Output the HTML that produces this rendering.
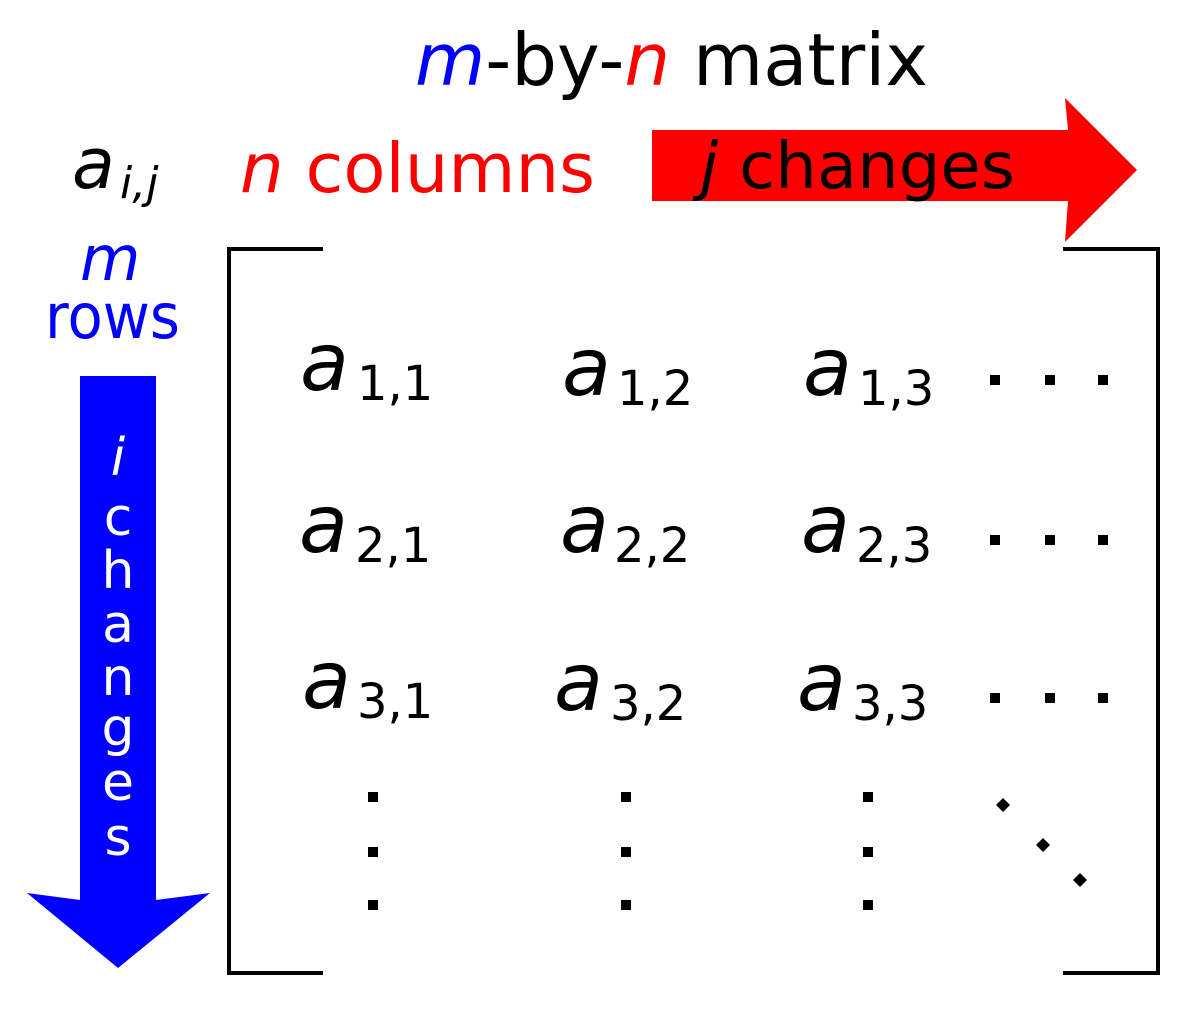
<!DOCTYPE html>
<html><head><meta charset="utf-8"><style>
html,body{margin:0;padding:0;background:#fff;}
svg{display:block;font-family:"DejaVu Sans","Liberation Sans",sans-serif;}
</style></head><body>
<svg width="1200" height="1013" viewBox="0 0 1200 1013" xmlns="http://www.w3.org/2000/svg">
<rect width="1200" height="1013" fill="#fff"/>
<!-- title -->
<text x="415" y="85" font-size="72" textLength="513" lengthAdjust="spacingAndGlyphs"><tspan fill="#00f" font-style="italic">m</tspan><tspan fill="#000">-by-</tspan><tspan fill="#f00" font-style="italic">n</tspan><tspan fill="#000"> matrix</tspan></text>
<!-- a_ij -->
<text x="72" y="188" font-size="70" font-style="italic">a</text>
<text x="120" y="198" font-size="44" font-style="italic">i,j</text>
<!-- n columns -->
<text x="240" y="192" font-size="69" fill="#f00" textLength="355" lengthAdjust="spacingAndGlyphs"><tspan font-style="italic">n</tspan> columns</text>
<!-- red arrow -->
<polygon points="652,130 1068,130 1065,98 1137,170 1065,242 1068,201 652,201" fill="#f00"/>
<text x="700" y="188" font-size="64" fill="#000" textLength="315" lengthAdjust="spacingAndGlyphs"><tspan font-style="italic">j</tspan> changes</text>
<!-- m rows -->
<text x="80" y="280" font-size="62" fill="#00f" font-style="italic">m</text>
<text x="45" y="338" font-size="62" fill="#00f" textLength="135" lengthAdjust="spacingAndGlyphs">rows</text>
<!-- blue arrow -->
<polygon points="80,376 156,376 156,900 210,893 118,968 27,893 80,900" fill="#00f"/>
<g fill="#fff" font-size="52" text-anchor="middle">
<text x="118" y="475" font-style="italic">i</text>
<text x="118" y="535">c</text>
<text x="118" y="588">h</text>
<text x="118" y="642">a</text>
<text x="118" y="695">n</text>
<text x="118" y="745">g</text>
<text x="118" y="800">e</text>
<text x="118" y="855">s</text>
</g>
<!-- brackets -->
<polyline points="323,249 229,249 229,973 323,973" fill="none" stroke="#000" stroke-width="4"/>
<polyline points="1063,249 1158,249 1158,973 1063,973" fill="none" stroke="#000" stroke-width="4"/>
<!-- entries -->
<g fill="#000">
<text x="300" y="390" font-size="80" font-style="italic">a</text><text x="357" y="400" font-size="48">1,1</text>
<text x="562" y="395" font-size="80" font-style="italic">a</text><text x="617" y="405" font-size="48">1,2</text>
<text x="803" y="395" font-size="80" font-style="italic">a</text><text x="858" y="405" font-size="48">1,3</text>
<text x="299" y="552" font-size="80" font-style="italic">a</text><text x="355" y="562" font-size="48">2,1</text>
<text x="560" y="552" font-size="80" font-style="italic">a</text><text x="614" y="562" font-size="48">2,2</text>
<text x="801" y="552" font-size="80" font-style="italic">a</text><text x="856" y="562" font-size="48">2,3</text>
<text x="302" y="708" font-size="80" font-style="italic">a</text><text x="357" y="718" font-size="48">3,1</text>
<text x="554" y="710" font-size="80" font-style="italic">a</text><text x="610" y="720" font-size="48">3,2</text>
<text x="797" y="710" font-size="80" font-style="italic">a</text><text x="852" y="720" font-size="48">3,3</text>
</g>
<!-- dots -->
<g fill="#000">
<rect x="990" y="375" width="10" height="10"/><rect x="1045" y="375" width="10" height="10"/><rect x="1098" y="375" width="10" height="10"/>
<rect x="990" y="535" width="10" height="10"/><rect x="1045" y="535" width="10" height="10"/><rect x="1098" y="535" width="10" height="10"/>
<rect x="990" y="693" width="10" height="10"/><rect x="1045" y="693" width="10" height="10"/><rect x="1098" y="693" width="10" height="10"/>
<rect x="368" y="792" width="10" height="10"/><rect x="368" y="847" width="10" height="10"/><rect x="368" y="900" width="10" height="10"/>
<rect x="621" y="792" width="10" height="10"/><rect x="621" y="847" width="10" height="10"/><rect x="621" y="900" width="10" height="10"/>
<rect x="863" y="792" width="10" height="10"/><rect x="863" y="847" width="10" height="10"/><rect x="863" y="900" width="10" height="10"/>
<polygon points="1003,798 1010,805 1003,812 996,805"/>
<polygon points="1043,838 1050,845 1043,852 1036,845"/>
<polygon points="1080,873 1087,880 1080,887 1073,880"/>
</g>
</svg>
</body></html>
